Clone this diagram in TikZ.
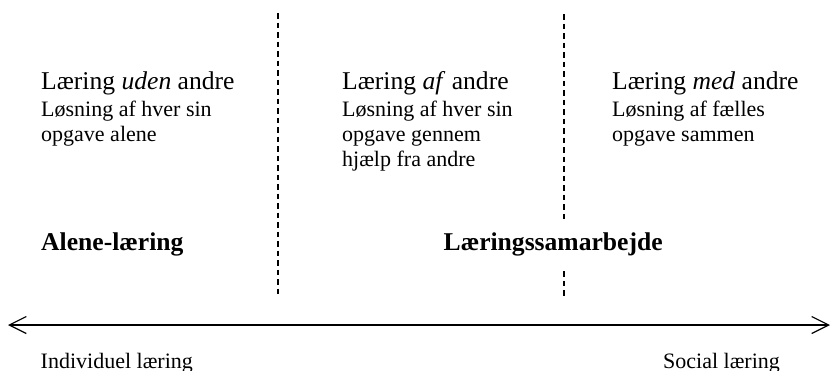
\documentclass[tikz,border=0pt]{standalone}
\usepackage{fontspec}
\setmainfont{Liberation Serif}
\usetikzlibrary{arrows.meta}
\begin{document}
\begin{tikzpicture}[x=1pt,y=-1pt,
  txt/.style={inner sep=0pt,anchor=base west},
  head/.style={txt,font=\fontsize{25.6}{30}\selectfont},
  body/.style={txt,font=\fontsize{22}{25}\selectfont},
  boldlbl/.style={txt,font=\fontsize{25.6}{30}\selectfont\bfseries},
  divider/.style={line width=1.5pt,dash pattern=on 5.5pt off 4pt},
  axis/.style={line width=1.2pt,{Straight Barb[length=17pt,width=17pt,line width=1.2pt]}-{Straight Barb[length=17pt,width=17pt,line width=1.2pt]}}]
\useasboundingbox (0,0) rectangle (831,370);
% dividers
\coordinate (d1a) at (277.8,13);
\coordinate (d1b) at (277.8,297);
\coordinate (d2a) at (564,14);
\coordinate (d2b) at (564,220);
\coordinate (d2c) at (564,271);
\coordinate (d2d) at (564,297);
\draw[divider] (d1a) -- (d1b);
\draw[divider] (d2a) -- (d2b);
\draw[divider] (d2c) -- (d2d);
% column 1
\node[head] (h1) at (41,89.3) {Læring \textit{uden} andre};
\node[body] (b11) at (41,116.7) {Løsning af hver sin};
\node[body] (b12) at (41,141.7) {opgave alene};
% column 2
\node[head] (h2) at (342,89.3) {Læring \textit{af} andre};
\node[body] (b21) at (342,116.7) {Løsning af hver sin};
\node[body] (b22) at (342,141.7) {opgave gennem};
\node[body] (b23) at (342,166.7) {hjælp fra andre};
% column 3
\node[head] (h3) at (612,89.3) {Læring \textit{med} andre};
\node[body] (b31) at (612,116.7) {Løsning af fælles};
\node[body] (b32) at (612,141.7) {opgave sammen};
% bold labels
\node[boldlbl] (alene) at (41,250) {Alene-læring};
\node[boldlbl] (samarb) at (443.5,250) {Læringssamarbejde};
% axis
\coordinate (axL) at (8,325);
\coordinate (axR) at (830,325);
\draw[axis] (axL) -- (axR);
\node[body] (ind) at (40.5,368) {Individuel læring};
\node[body] (soc) at (663,368) {Social læring};
\end{tikzpicture}
\end{document}
